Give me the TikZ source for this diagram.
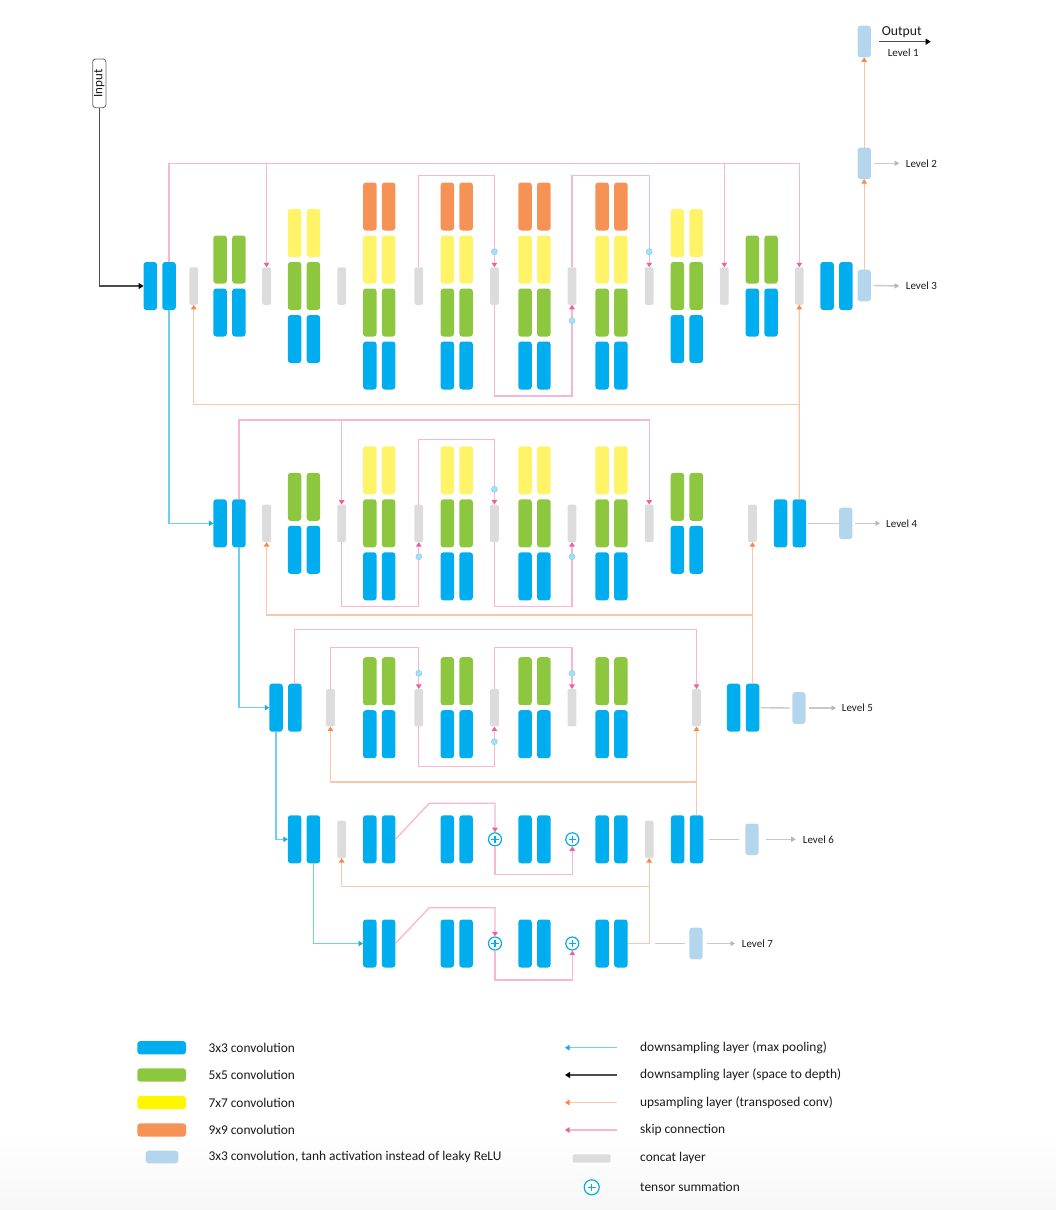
\documentclass[tikz,border=0pt]{standalone}
\usepackage{fontspec}
\setmainfont{Carlito}
\usetikzlibrary{arrows.meta}
\definecolor{cA}{HTML}{00AEEF}
\definecolor{cB}{HTML}{8DC63F}
\definecolor{cC}{HTML}{FFF467}
\definecolor{cCl}{HTML}{FFF700}
\definecolor{cD}{HTML}{F79256}
\definecolor{cLB}{HTML}{B4D6EC}
\definecolor{cCat}{HTML}{DCDCDC}
\definecolor{pinkl}{HTML}{F8B6D2}
\definecolor{pinka}{HTML}{EE5FA0}
\definecolor{orl}{HTML}{FBC6A6}
\definecolor{ora}{HTML}{F7894A}
\definecolor{bll}{HTML}{6ECFF6}
\definecolor{bla}{HTML}{1FA9E6}
\definecolor{grl}{HTML}{C9C9C9}
\definecolor{gra}{HTML}{B5B5B5}
\definecolor{dotf}{HTML}{A8DEF6}
\definecolor{dotd}{HTML}{7DCFF3}
\definecolor{txt}{HTML}{1A1A1A}
\newcommand{\mkstack}[5]{%
  \foreach \cc [count=\ii] in {#5} {
    \pgfmathsetmacro{\yy}{#3+(\ii-(#4+1)/2)*53}
    \node[blk, fill=\cc] (#1-\ii-1) at (#2-9.4,\yy) {};
    \node[blk, fill=\cc] (#1-\ii-2) at (#2+9.4,\yy) {};
  }}
\tikzset{
  blk/.style={rectangle, rounded corners=2.8pt, minimum width=13.5pt, minimum height=48pt, inner sep=0pt, outer sep=0pt},
  cat/.style={rectangle, rounded corners=2pt, fill=cCat, minimum width=8.8pt, minimum height=37.5pt, inner sep=0pt, outer sep=0pt},
  tnh/.style={rectangle, rounded corners=2.8pt, fill=cLB, minimum width=13.3pt, minimum height=31.6pt, inner sep=0pt, outer sep=0pt},
  sdot/.style={circle, fill=dotf, draw=dotd, line width=0.5pt, minimum size=6pt, inner sep=0pt},
  plusn/.style={circle, draw=cA, fill=white, line width=1.2pt, minimum size=13pt, inner sep=0pt,
    path picture={\draw[cA, line width=1.1pt] ([xshift=-3.8pt]path picture bounding box.center) -- ([xshift=3.8pt]path picture bounding box.center) ([yshift=-3.8pt]path picture bounding box.center) -- ([yshift=3.8pt]path picture bounding box.center);}},
  skipl/.style={draw=pinkl, line width=1.35pt, -{Triangle[length=4.5pt,width=5.5pt,color=pinka]}},
  upl/.style={draw=orl, line width=1.35pt, -{Triangle[length=4.5pt,width=5.5pt,color=ora]}},
  dsl/.style={draw=bll, line width=1.35pt, -{Triangle[length=4.5pt,width=5.5pt,color=bla]}},
  inl/.style={draw=black!70, line width=1.2pt, -{Triangle[length=5pt,width=6pt,color=black]}},
  gline/.style={draw=grl, line width=1.4pt},
  garr/.style={draw=grl, line width=1.4pt, -{Triangle[length=4.5pt,width=5pt,color=gra]}},
  lvl/.style={font=\fontsize{11}{13}\selectfont, text=txt, anchor=west, inner sep=0pt},
  leg/.style={font=\fontsize{13.4}{16}\selectfont, text=txt, anchor=west, inner sep=0pt},
  lsw/.style={rectangle, rounded corners=3pt, minimum width=48.7pt, minimum height=13.3pt, inner sep=0pt}
}
\begin{document}
\begin{tikzpicture}[x=1pt, y=-1pt]
\useasboundingbox (0,0) rectangle (1056,1210);
\fill[top color=white, bottom color=black!3] (0,1130) rectangle (1056,1210);

% y levels
\coordinate (y3t) at (0,163.3); \coordinate (y3i) at (0,175.7); \coordinate (y3b) at (0,396);
\coordinate (y3o) at (0,404.3); \coordinate (y3dt) at (0,251.7); \coordinate (y3db) at (0,320.7);
\coordinate (y4t) at (0,420); \coordinate (y4i) at (0,439.3); \coordinate (y4b) at (0,606.7);
\coordinate (y4o) at (0,615); \coordinate (y4dt) at (0,489.3); \coordinate (y4db) at (0,556.7);
\coordinate (y5t) at (0,629.3); \coordinate (y5i) at (0,647.7); \coordinate (y5b) at (0,766.7);
\coordinate (y5o) at (0,782); \coordinate (y5dt) at (0,673.3); \coordinate (y5db) at (0,741.7);
\coordinate (y6b) at (0,874.3); \coordinate (y6o) at (0,886.7);
\coordinate (y7b) at (0,980);

% ---------- Level 3 ----------
\mkstack{L3A}{159.7}{286}{1}{cA}
\node[cat] (L3c1) at (193.7,286) {};
\mkstack{L3S1}{229.5}{286}{2}{cB,cA}
\node[cat] (L3c2) at (266.6,286) {};
\mkstack{L3S2}{304}{286}{3}{cC,cB,cA}
\node[cat] (L3c3) at (341.7,286) {};
\mkstack{L3S3}{379.2}{286}{4}{cD,cC,cB,cA}
\node[cat] (L3c4) at (418.8,286) {};
\mkstack{L3S4}{456.7}{286}{4}{cD,cC,cB,cA}
\node[cat] (L3c5) at (494.4,286) {};
\mkstack{L3S5}{534.4}{286}{4}{cD,cC,cB,cA}
\node[cat] (L3c6) at (572,286) {};
\mkstack{L3S6}{611.5}{286}{4}{cD,cC,cB,cA}
\node[cat] (L3c7) at (649.2,286) {};
\mkstack{L3S7}{686.8}{286}{3}{cC,cB,cA}
\node[cat] (L3c8) at (724.3,286) {};
\mkstack{L3S8}{761.7}{286}{2}{cB,cA}
\node[cat] (L3c9) at (799.3,286) {};
\mkstack{L3Z}{836.5}{286}{1}{cA}
\node[tnh] (LB3) at (864.2,285.5) {};
\node[tnh] (LB2) at (864.2,163.3) {};
\node[tnh] (LB1) at (864.2,41.5) {};

% ---------- Level 4 ----------
\mkstack{L4A}{229.5}{523.3}{1}{cA}
\node[cat] (L4c1) at (266.6,523.3) {};
\mkstack{L4S1}{304}{523.3}{2}{cB,cA}
\node[cat] (L4c2) at (341.7,523.3) {};
\mkstack{L4S2}{379.2}{523.3}{3}{cC,cB,cA}
\node[cat] (L4c3) at (418.8,523.3) {};
\mkstack{L4S3}{456.7}{523.3}{3}{cC,cB,cA}
\node[cat] (L4c4) at (494.4,523.3) {};
\mkstack{L4S4}{534.4}{523.3}{3}{cC,cB,cA}
\node[cat] (L4c5) at (572,523.3) {};
\mkstack{L4S5}{611.5}{523.3}{3}{cC,cB,cA}
\node[cat] (L4c6) at (649.2,523.3) {};
\mkstack{L4S6}{686.8}{523.3}{2}{cB,cA}
\node[cat] (L4c7) at (752.5,523.3) {};
\mkstack{L4Z}{789.9}{523.3}{1}{cA}
\node[tnh] (LB4) at (845.7,523.3) {};

% ---------- Level 5 ----------
\mkstack{L5A}{285.4}{707.7}{1}{cA}
\node[cat] (L5c1) at (330.5,707.7) {};
\mkstack{L5S1}{379.2}{707.7}{2}{cB,cA}
\node[cat] (L5c2) at (418.8,707.7) {};
\mkstack{L5S2}{456.7}{707.7}{2}{cB,cA}
\node[cat] (L5c3) at (494.4,707.7) {};
\mkstack{L5S3}{534.4}{707.7}{2}{cB,cA}
\node[cat] (L5c4) at (572,707.7) {};
\mkstack{L5S4}{611.5}{707.7}{2}{cB,cA}
\node[cat] (L5c5) at (696.5,707.7) {};
\mkstack{L5Z}{743.1}{707.7}{1}{cA}
\node[tnh] (LB5) at (799,708) {};

% ---------- Level 6 ----------
\mkstack{L6A}{304}{839.3}{1}{cA}
\node[cat] (L6c1) at (341.7,839.3) {};
\mkstack{L6P1}{379.2}{839.3}{1}{cA}
\mkstack{L6P2}{456.7}{839.3}{1}{cA}
\node[plusn] (L6s1) at (495,839.3) {};
\mkstack{L6P3}{534.4}{839.3}{1}{cA}
\node[plusn] (L6s2) at (572.3,839.3) {};
\mkstack{L6P4}{611.5}{839.3}{1}{cA}
\node[cat] (L6c2) at (649.2,839.3) {};
\mkstack{L6Z}{687.1}{839.3}{1}{cA}
\node[tnh] (LB6) at (752,839.3) {};

% ---------- Level 7 ----------
\mkstack{L7A}{379.2}{943.5}{1}{cA}
\mkstack{L7P2}{456.7}{943.5}{1}{cA}
\node[plusn] (L7s1) at (495,943.5) {};
\mkstack{L7P3}{534.4}{943.5}{1}{cA}
\node[plusn] (L7s2) at (572.3,943.5) {};
\mkstack{L7P4}{611.5}{943.5}{1}{cA}
\node[tnh] (LB7) at (696,943.5) {};

% ---------- Input / Output ----------
\node[draw=black!60, line width=0.8pt, rounded corners=3pt, rotate=90, minimum width=48.7pt, minimum height=13.3pt, inner sep=0pt, font=\fontsize{13}{15}\selectfont, text=txt] (inp) at (99.3,83.3) {Input};
\draw[inl] (inp.west) |- (L3A-1-1.west);
\node[font=\fontsize{13.7}{16}\selectfont, text=txt, inner sep=0pt] (outt) at (901.7,32.3) {Output};
\node[lvl, anchor=center] (lv1) at (903.3,52.3) {Level 1};
\coordinate (o1) at (879.3,41.7); \coordinate (o2) at (930.7,41.7);
\draw[inl] (o1) -- (o2);
\draw[upl] (LB3.north) -- (LB2.south);
\draw[upl] (LB2.north) -- (LB1.south);
\node[lvl] (lv2) at (905.7,163.3) {Level 2};
\node[lvl] (lv3) at (905.7,286) {Level 3};
\draw[garr] ([xshift=3.3pt]LB2.east) -- ([xshift=-6.5pt]lv2.west);
\draw[garr] ([xshift=3.3pt]LB3.east) -- ([xshift=-6.5pt]lv3.west);

% ---------- Level 3 connectors ----------
\draw[skipl] (L3A-1-2.north) |- (L3c9.north |- y3t) -- (L3c9.north);
\draw[skipl] (L3c2.north |- y3t) -- (L3c2.north);
\draw[skipl] (L3c8.north |- y3t) -- (L3c8.north);
\draw[skipl] (L3c4.north) |- (L3c5.north |- y3i) -- (L3c5.north);
\draw[skipl] (L3c5.south) |- (L3c6.south |- y3b) -- (L3c6.south);
\draw[skipl] (L3c6.north) |- (L3c7.north |- y3i) -- (L3c7.north);
\node[sdot] (L3d5) at (L3c5.north |- y3dt) {};
\node[sdot] (L3d6) at (L3c6.south |- y3db) {};
\node[sdot] (L3d7) at (L3c7.north |- y3dt) {};
\draw[upl] (L4Z-1-2.north) -- (L3c9.south);
\draw[upl] (L4Z-1-2.north |- y3o) -| (L3c1.south);
\draw[dsl] (L3A-1-2.south) |- (L4A-1-1.west);

% ---------- Level 4 connectors ----------
\draw[skipl] (L4A-1-2.north) |- (L4c6.north |- y4t) -- (L4c6.north);
\draw[skipl] (L4c2.north |- y4t) -- (L4c2.north);
\draw[skipl] (L4c2.south) |- (L4c3.south |- y4b) -- (L4c3.south);
\draw[skipl] (L4c3.north) |- (L4c4.north |- y4i) -- (L4c4.north);
\draw[skipl] (L4c4.south) |- (L4c5.south |- y4b) -- (L4c5.south);
\node[sdot] (L4d3) at (L4c3.south |- y4db) {};
\node[sdot] (L4d4) at (L4c4.north |- y4dt) {};
\node[sdot] (L4d5) at (L4c5.south |- y4db) {};
\draw[upl] (L5Z-1-2.north) -- (L4c7.south);
\draw[upl] (L5Z-1-2.north |- y4o) -| (L4c1.south);
\draw[dsl] (L4A-1-2.south) |- (L5A-1-1.west);
\node[lvl] (lv4) at (886,523.3) {Level 4};
\draw[gline] ([xshift=2pt]L4Z-1-2.east) -- ([xshift=-0.5pt]LB4.west);
\draw[garr] ([xshift=2.7pt]LB4.east) -- ([xshift=-6pt]lv4.west);

% ---------- Level 5 connectors ----------
\draw[skipl] (L5A-1-2.north) |- (L5c5.north |- y5t) -- (L5c5.north);
\draw[skipl] (L5c1.north) |- (L5c2.north |- y5i) -- (L5c2.north);
\draw[skipl] (L5c2.south) |- (L5c3.south |- y5b) -- (L5c3.south);
\draw[skipl] (L5c3.north) |- (L5c4.north |- y5i) -- (L5c4.north);
\node[sdot] (L5d2) at (L5c2.north |- y5dt) {};
\node[sdot] (L5d3) at (L5c3.south |- y5db) {};
\node[sdot] (L5d4) at (L5c4.north |- y5dt) {};
\draw[upl] (L6Z-1-2.north) -- (L5c5.south);
\draw[upl] (L6Z-1-2.north |- y5o) -| (L5c1.south);
\draw[dsl] (L5A-1-1.south) |- (L6A-1-1.west);
\node[lvl] (lv5) at (841.7,708) {Level 5};
\draw[gline] ([xshift=1.7pt]L5Z-1-2.east) -- ([xshift=-2.3pt]LB5.west);
\draw[garr] ([xshift=3.6pt]LB5.east) -- ([xshift=-5.7pt]lv5.west);

% ---------- Level 6 connectors ----------
\coordinate (L6k) at (429.3,803.3);
\draw[skipl] (L6P1-1-2.east) -- (L6k) -| (L6s1.north);
\draw[skipl] (L6s1.south) |- (L6s2.south |- y6b) -- (L6s2.south);
\draw[upl] (L7P4-1-2.east) -| (L6c2.south);
\draw[upl] (L6c2.south |- y6o) -| (L6c1.south);
\draw[dsl] (L6A-1-2.south) |- (L7A-1-1.west);
\node[lvl] (lv6) at (802.7,839.3) {Level 6};
\draw[gline] ([xshift=6pt]L6Z-1-2.east) -- ([xshift=-6pt]LB6.west);
\draw[garr] ([xshift=7pt]LB6.east) -- ([xshift=-7pt]lv6.west);

% ---------- Level 7 connectors ----------
\coordinate (L7k) at (429.3,907.7);
\draw[skipl] (L7A-1-2.east) -- (L7k) -| (L7s1.north);
\draw[skipl] (L7s1.south) |- (L7s2.south |- y7b) -- (L7s2.south);
\coordinate (g7) at (655,943.5);
\node[lvl] (lv7) at (741.7,943.5) {Level 7};
\draw[gline] (g7) -- ([xshift=-4.3pt]LB7.west);
\draw[garr] ([xshift=4pt]LB7.east) -- ([xshift=-6.7pt]lv7.west);

% ---------- Legend ----------
\node[lsw, fill=cA] (lg1) at (161.7,1047.7) {};
\node[lsw, fill=cB] (lg2) at (161.7,1075) {};
\node[lsw, fill=cCl] (lg3) at (161.7,1102.5) {};
\node[lsw, fill=cD] (lg4) at (161.7,1130) {};
\node[lsw, fill=cLB, minimum width=32.6pt, minimum height=12.6pt] (lg5) at (162,1157) {};
\node[leg] (lt1) at (208.3,1047.7) {3x3 convolution};
\node[leg] (lt2) at (208.3,1075) {5x5 convolution};
\node[leg] (lt3) at (208.3,1102.5) {7x7 convolution};
\node[leg] (lt4) at (208.3,1130) {9x9 convolution};
\node[leg] (lt5) at (208.3,1157) {3x3 convolution, tanh activation instead of leaky ReLU};

\coordinate (la1) at (617.3,1047.7); \coordinate (lb1) at (565,1047.7);
\coordinate (la2) at (617.3,1075); \coordinate (lb2) at (565,1075);
\coordinate (la3) at (617.3,1102.5); \coordinate (lb3) at (565,1102.5);
\coordinate (la4) at (617.3,1130); \coordinate (lb4) at (565,1130);
\draw[dsl] (la1) -- (lb1);
\draw[inl] (la2) -- (lb2);
\draw[upl] (la3) -- (lb3);
\draw[skipl] (la4) -- (lb4);
\node[cat, minimum width=38pt, minimum height=8.4pt] (lgc) at (591.7,1158.5) {};
\node[plusn, minimum size=15pt] (lgp) at (591.7,1187.3) {};
\node[leg] (rt1) at (640,1047.7) {downsampling layer (max pooling)};
\node[leg] (rt2) at (640,1075) {downsampling layer (space to depth)};
\node[leg] (rt3) at (640,1102.5) {upsampling layer (transposed conv)};
\node[leg] (rt4) at (640,1130) {skip connection};
\node[leg] (rt5) at (640,1157.7) {concat layer};
\node[leg] (rt6) at (640,1187.3) {tensor summation};
\end{tikzpicture}
\end{document}
